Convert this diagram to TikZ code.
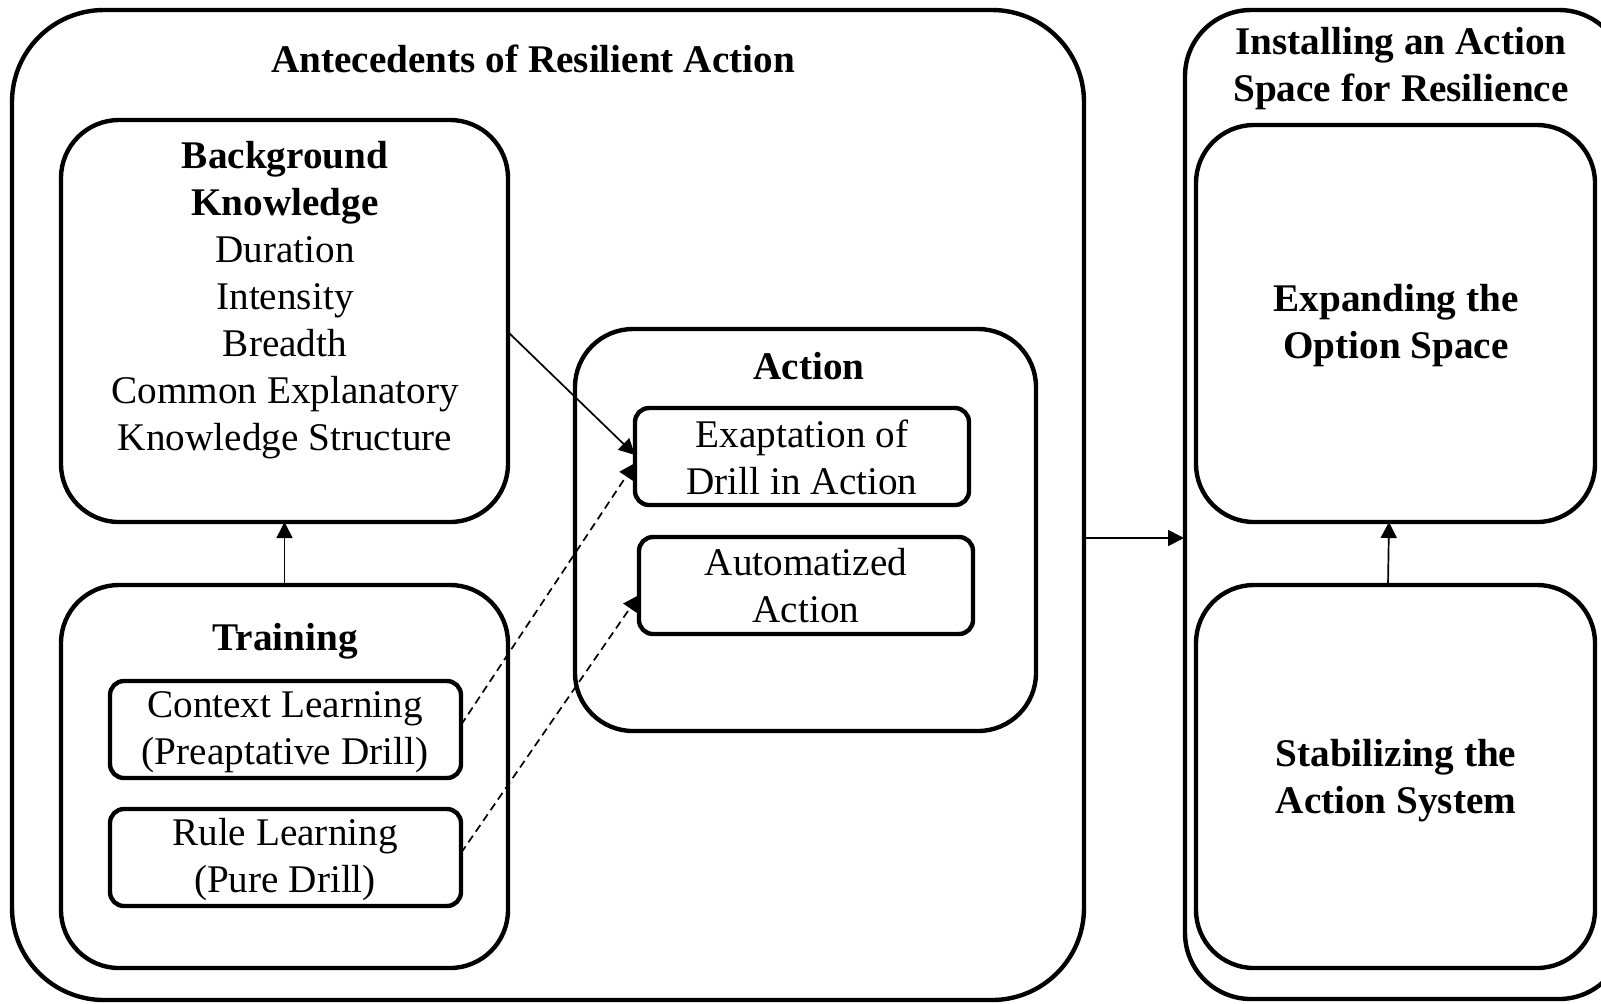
\documentclass[tikz,border=0pt]{standalone}
\usepackage{fontspec}
\setmainfont{Liberation Serif}
\usetikzlibrary{arrows.meta}
\begin{document}
\begin{tikzpicture}[x=0.5pt,y=-0.5pt,
 box/.style={draw, line width=2.2pt, inner sep=0pt, outer sep=0pt},
 big/.style={box, rounded corners=29pt},
 small/.style={box, rounded corners=7pt, minimum height=48.5pt},
 txt/.style={align=center, font=\fontsize{19.6}{23.5}\selectfont, inner sep=0pt},
 ttl/.style={align=center, font=\fontsize{19.6}{23.5}\selectfont\bfseries, inner sep=0pt},
 arr/.style={-{Triangle[length=8pt,width=8pt]}, line width=0.85pt},
 darr/.style={arr, dash pattern=on 4pt off 2.5pt}]
\useasboundingbox (0,0) rectangle (1601,1003);
\begin{scope}
\clip (0,0) rectangle (1601,1003);
% outer boxes
\node[box, rounded corners=46pt, minimum width=536pt, minimum height=495pt] (outl) at (548,505) {};
\node[box, rounded corners=33pt, minimum width=220pt, minimum height=494.5pt] (outr) at (1405,504.5) {};
\end{scope}
% left inner boxes
\node[big, minimum width=223.5pt, minimum height=201pt] (bk) at (284.5,321) {};
\node[big, minimum width=223.5pt, minimum height=191.5pt] (train) at (284.5,776.5) {};
\node[small, minimum width=175.5pt] (ctx) at (285.5,729.5) {};
\node[small, minimum width=175.5pt] (rule) at (285.5,857.5) {};
\node[big, minimum width=230.5pt, minimum height=201pt] (act) at (805.5,530) {};
\node[small, minimum width=167pt] (exap) at (802,456.5) {};
\node[small, minimum width=167pt] (auto) at (806,585.5) {};
% right inner boxes
\node[big, minimum width=199.5pt, minimum height=198.5pt] (exp) at (1395.5,323.5) {};
\node[big, minimum width=199.5pt, minimum height=191.5pt] (stab) at (1395.5,776.5) {};
% texts
\node[ttl] (tant) at (533,59) {Antecedents of Resilient Action};
\node[txt] (tbk) at (285,300) {\textbf{Background}\\\textbf{Knowledge}\\Duration\\Intensity\\Breadth\\Common Explanatory\\Knowledge Structure};
\node[ttl] (ttrain) at (285,641) {Training};
\node[txt] (tctx) at (285,732) {Context Learning\\(Preaptative Drill)};
\node[txt] (trule) at (285,860) {Rule Learning\\(Pure Drill)};
\node[ttl] (tact) at (809,366) {Action};
\node[txt] (texap) at (802,457) {Exaptation of\\Drill in Action};
\node[txt] (tauto) at (806,586) {Automatized\\Action};
\node[ttl] (tinst) at (1401,69) {Installing an Action\\Space for Resilience};
\node[ttl] (texp) at (1396,326) {Expanding the\\Option Space};
\node[ttl] (tstab) at (1396,781) {Stabilizing the\\Action System};
% connector end points
\coordinate (bkout) at (508,332);
\coordinate (exapin1) at (635,455);
\coordinate (ctxout) at (461,725);
\coordinate (exapin2) at (635,463);
\coordinate (ruleout) at (461,853);
\coordinate (autoin) at (639,595);
\coordinate (outlout) at (1084,538);
\coordinate (outrin) at (1184,538);
\coordinate (stabout) at (1388,585);
\coordinate (expin) at (1389,522);
% connectors
\draw[arr] (train.north) -- (bk.south);
\draw[arr] (bkout) -- (exapin1);
\draw[darr] (ctxout) -- (exapin2);
\draw[darr] (ruleout) -- (autoin);
\draw[arr] (outlout) -- (outrin);
\draw[arr] (stabout) -- (expin);
\end{tikzpicture}
\end{document}
